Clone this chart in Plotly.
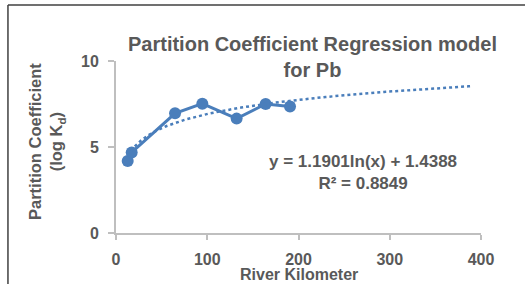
import numpy as np
import plotly.graph_objects as go

# Data
river_km = [12.8, 17.2, 64.7, 94.6, 132.2, 164.0, 190.7]
log_kd = [4.18, 4.68, 6.96, 7.52, 6.65, 7.50, 7.35]

# Trendline from the equation shown on the chart: y = a ln(x) + b
trend_a = 1.1901
trend_b = 1.4388
trend_x_end = 388

x_ticks = [0, 100, 200, 300, 400]
y_ticks = [0, 5, 10]

title_text = "Partition Coefficient Regression model<br>for Pb"
eq_text = "y = 1.1901ln(x) + 1.4388<br>R² = 0.8849"

blue = "#4a7ebb"
gray_txt = "#595959"
axis_gray = "#bfbfbf"
font_fam = "Liberation Sans, Arial, sans-serif"

tx = np.linspace(min(river_km), trend_x_end, 200)
ty = trend_a * np.log(tx) + trend_b

fig = go.Figure()
fig.add_trace(go.Scatter(
    x=river_km, y=log_kd, mode="lines+markers",
    line=dict(color=blue, width=3),
    marker=dict(color=blue, size=12),
    showlegend=False, cliponaxis=False,
))
fig.add_trace(go.Scatter(
    x=tx, y=ty, mode="lines",
    line=dict(color=blue, width=2.5, dash="dot"),
    showlegend=False, hoverinfo="skip",
))

fig.update_layout(
    width=525, height=284,
    margin=dict(l=116, r=44, t=61, b=51, autoexpand=False),
    paper_bgcolor="white", plot_bgcolor="white",
    font=dict(family=font_fam, color=gray_txt),
    xaxis=dict(
        range=[0, 400], tickvals=x_ticks, showgrid=False, zeroline=False,
        showline=True, linecolor=axis_gray, linewidth=2,
        ticks="outside", ticklen=5, tickcolor=axis_gray, tickwidth=2,
        tickfont=dict(size=16, color=gray_txt, family=font_fam, weight="bold"),
        ticklabelstandoff=6,
    ),
    yaxis=dict(
        range=[0, 10], tickvals=y_ticks, showgrid=False, zeroline=False,
        showline=True, linecolor=axis_gray, linewidth=2,
        ticks="outside", ticklen=6, tickcolor=axis_gray, tickwidth=2,
        tickfont=dict(size=16, color=gray_txt, family=font_fam, weight="bold"),
        ticklabelstandoff=6,
    ),
    shapes=[
        dict(type="line", xref="paper", yref="paper",
             x0=-0.296, x1=1.2, y0=1.326, y1=1.326,
             line=dict(color="#404040", width=1.5)),
        dict(type="line", xref="paper", yref="paper",
             x0=-0.296, x1=-0.296, y0=-0.4, y1=1.326,
             line=dict(color="#404040", width=1.5)),
    ],
    annotations=[
        dict(text=title_text, xref="paper", yref="paper", x=0.539, y=1.026,
             xanchor="center", yanchor="middle", showarrow=False,
             font=dict(size=20, color=gray_txt, family=font_fam, weight="bold")),
        dict(text=eq_text, xref="x", yref="y", x=270.7, y=3.5,
             xanchor="center", yanchor="middle", showarrow=False,
             font=dict(size=17, color=gray_txt, family=font_fam, weight="bold")),
        dict(text="River Kilometer", xref="paper", yref="paper", x=0.5, y=-0.24,
             xanchor="center", yanchor="middle", showarrow=False,
             font=dict(size=16, color=gray_txt, family=font_fam, weight="bold")),
        dict(text="Partition Coefficient<br>(log K<sub>d</sub>)", xref="paper", yref="paper",
             x=-0.189, y=0.529, xanchor="center", yanchor="middle", showarrow=False,
             textangle=-90,
             font=dict(size=16.5, color=gray_txt, family=font_fam, weight="bold")),
    ],
)

fig.write_html("out.html", config={"displayModeBar": False},
               post_script="document.body.style.margin='0';document.body.style.overflow='hidden';")
